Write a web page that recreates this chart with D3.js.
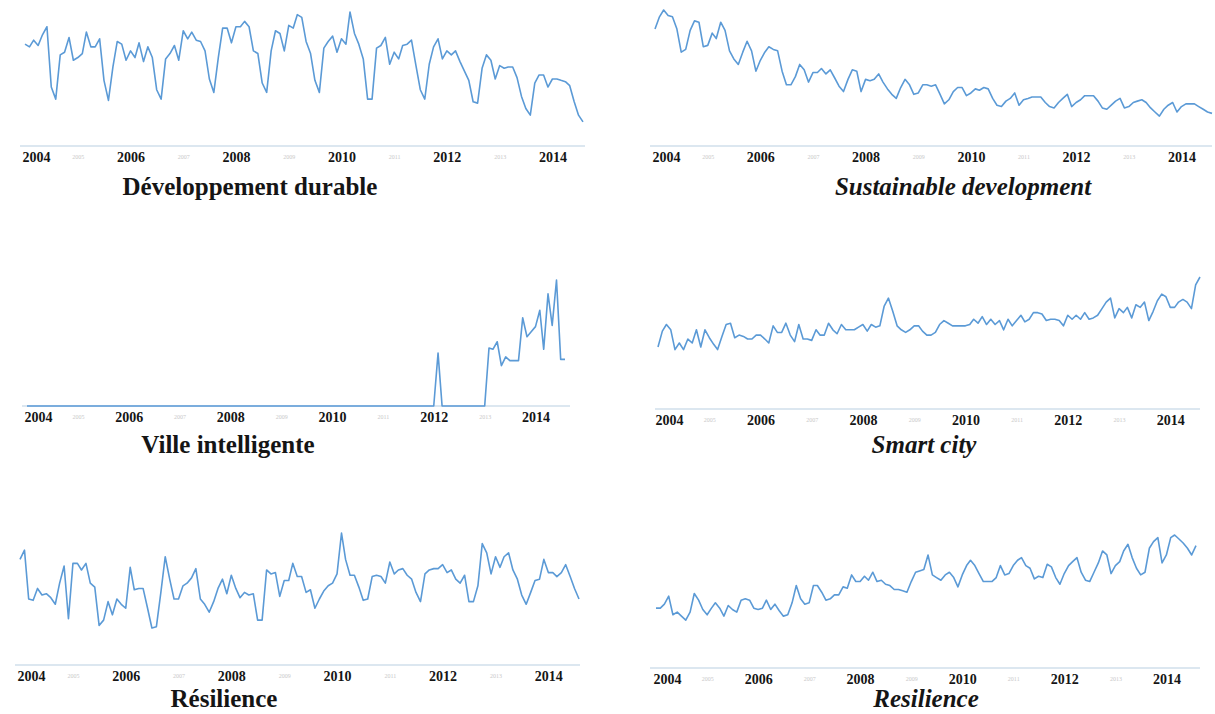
<!DOCTYPE html>
<html>
<head>
<meta charset="utf-8">
<script src="https://cdn.jsdelivr.net/npm/d3@7"></script>
<style>
  body { margin: 0; background: #fff; }
  svg { display: block; }
</style>
</head>
<body>
<script>
// monthly Google Trends style index (0-100), Jan 2004 -> Aug 2014
var years = [2004, 2005, 2006, 2007, 2008, 2009, 2010, 2011, 2012, 2013, 2014];

var devDurable = [
  76,74,79,75,83,89,44,35,68,70,81,64,
  66,69,85,74,74,80,49,34,59,78,76,64,
  71,66,77,63,74,66,42,35,65,69,75,64,
  86,80,85,79,78,71,50,40,66,88,88,77,
  89,89,93,89,71,69,47,40,71,86,84,71,
  90,88,98,96,78,69,49,40,73,78,82,70,
  80,76,100,84,76,65,35,35,73,75,81,61,
  70,65,75,76,79,60,42,35,61,74,80,65,
  71,68,71,63,56,49,33,32,58,68,64,50,
  60,58,59,59,51,37,28,23,47,53,53,44,
  50,50,49,48,45,33,23,18
];

var sustainableDev = [
  86,95,100,96,95,86,69,71,85,92,91,73,
  74,83,79,91,85,70,64,60,69,77,70,55,
  63,69,73,71,70,55,45,45,51,60,56,47,
  54,54,57,53,56,50,44,40,49,56,55,40,
  49,48,49,53,47,42,38,35,43,49,45,38,
  39,45,45,44,45,38,31,34,40,43,43,37,
  39,42,41,43,42,35,30,29,33,35,39,30,
  34,35,36,36,36,32,29,28,32,35,38,29,
  32,34,37,37,37,33,28,27,30,33,35,28,
  29,32,33,34,32,28,25,22,27,30,32,25,
  29,31,31,31,29,27,25,24
];

var villeIntelligente = [
  0,0,0,0,0,0,0,0,0,0,0,0,
  0,0,0,0,0,0,0,0,0,0,0,0,
  0,0,0,0,0,0,0,0,0,0,0,0,
  0,0,0,0,0,0,0,0,0,0,0,0,
  0,0,0,0,0,0,0,0,0,0,0,0,
  0,0,0,0,0,0,0,0,0,0,0,0,
  0,0,0,0,0,0,0,0,0,0,0,0,
  0,0,0,0,0,0,0,0,0,0,0,0,
  0,42,0,0,0,0,0,0,0,0,0,0,
  0,46,45,51,32,39,36,36,36,70,55,59,
  63,76,45,89,64,100,37,37
];

var smartCity = [
  47,59,64,60,45,50,45,53,50,60,47,60,
  54,49,45,55,64,65,54,56,55,53,53,56,
  56,53,50,63,58,58,65,56,51,64,53,53,
  52,60,56,56,65,60,57,64,60,60,60,62,
  64,59,64,62,63,78,84,74,63,60,58,60,
  63,63,59,56,56,58,64,67,65,63,63,63,
  63,64,68,65,70,64,68,64,67,60,68,63,
  67,71,66,68,73,73,72,67,68,68,67,63,
  71,68,71,68,73,68,69,71,76,81,84,69,
  76,73,77,69,79,77,81,67,74,82,87,85,
  77,77,81,83,81,76,94,100
];

var resilienceFr = [
  80,87,50,49,58,53,54,51,46,62,75,35,
  77,77,72,77,62,59,30,34,48,38,50,46,
  43,74,57,58,58,43,28,29,55,82,65,50,
  50,60,62,66,73,50,46,40,48,58,65,54,
  68,58,51,55,53,54,34,34,72,69,70,52,
  64,64,77,67,67,55,57,43,50,56,60,62,
  69,100,80,68,68,59,49,50,67,68,67,62,
  78,69,72,73,68,65,55,48,69,72,73,73,
  76,70,72,65,62,68,48,48,60,92,85,69,
  82,74,82,85,72,65,53,46,55,64,65,80,
  70,70,67,70,76,67,58,50
];

var resilienceEn = [
  45,45,48,54,40,42,39,36,42,56,51,44,
  40,45,49,45,39,47,44,42,51,52,51,45,
  44,45,51,44,48,43,39,40,49,62,52,48,
  49,62,62,57,51,52,55,55,61,60,70,65,
  65,69,66,72,65,66,63,62,59,59,58,57,
  65,72,73,74,85,70,68,66,70,72,68,61,
  70,77,81,77,71,65,65,65,68,77,70,71,
  77,81,83,77,75,67,69,68,78,76,68,63,
  71,77,80,83,72,66,65,72,79,88,85,71,
  77,80,88,93,83,75,70,72,90,95,98,79,
  85,98,100,97,94,90,85,92
];

var titles = ["Développement durable", "Sustainable development",
              "Ville intelligente", "Smart city",
              "Résilience", "Resilience"];

var months = d3.timeMonth.range(new Date(2004, 0, 1), new Date(2014, 8, 1));

var width = 1215,
    height = 714;

// layout of the six small multiples
var panels = [
  {data: devDurable,        x0: 25,  x1: 583,  zero: 146, top: 12,  ax0: 20,  ax1: 585,  tx: 250, ty: 195, italic: false},
  {data: sustainableDev,    x0: 655, x1: 1212, zero: 146, top: 10,  ax0: 650, ax1: 1212, tx: 963, ty: 195, italic: true},
  {data: villeIntelligente, x0: 27,  x1: 565,  zero: 406, top: 280, ax0: 22,  ax1: 570,  tx: 228, ty: 453, italic: false},
  {data: smartCity,         x0: 658, x1: 1200, zero: 409, top: 277, ax0: 655, ax1: 1200, tx: 924, ty: 453, italic: true},
  {data: resilienceFr,      x0: 20,  x1: 579,  zero: 665, top: 533, ax0: 15,  ax1: 580,  tx: 224, ty: 707, italic: false},
  {data: resilienceEn,      x0: 656, x1: 1196, zero: 668, top: 535, ax0: 650, ax1: 1200, tx: 926, ty: 707, italic: true}
];

var svg = d3.select("body").append("svg")
    .attr("width", width)
    .attr("height", height);

panels.forEach(function(p, k) {
  var x = d3.scaleTime()
      .domain([months[0], months[months.length - 1]])
      .range([p.x0, p.x1]);
  var y = d3.scaleLinear()
      .domain([0, 100])
      .range([p.zero, p.top]);

  var g = svg.append("g");

  // axis baseline
  g.append("line")
      .attr("x1", p.ax0).attr("x2", p.ax1)
      .attr("y1", p.zero).attr("y2", p.zero)
      .attr("stroke", "#b9cfe2")
      .attr("stroke-width", 1.2);

  var axis = d3.axisBottom(x)
      .tickValues(years.map(function(yr) { return new Date(yr, 0, 1); }))
      .tickSize(0)
      .tickPadding(6)
      .tickFormat(d3.timeFormat("%Y"));

  var ax = g.append("g")
      .attr("transform", "translate(0," + p.zero + ")")
      .call(axis);
  ax.select(".domain").remove();

  ax.selectAll(".tick text")
      .attr("font-family", "'Liberation Serif', 'DejaVu Serif', serif")
      .each(function(d, i) {
        var t = d3.select(this);
        if (d.getFullYear() % 2 === 0) {
          t.attr("font-size", 14).attr("font-weight", "bold").attr("fill", "#151515");
        } else {
          t.attr("font-size", 6).attr("fill", "#c9c9c9").attr("y", 9);
        }
        if (i === 0) t.attr("text-anchor", "start").attr("x", -3);
      });

  var line = d3.line()
      .x(function(d, i) { return x(months[i]); })
      .y(function(d) { return y(d); });

  g.append("path")
      .datum(p.data)
      .attr("d", line)
      .attr("fill", "none")
      .attr("stroke", "#5b9ad6")
      .attr("stroke-width", 1.6)
      .attr("stroke-linejoin", "round");

  g.append("text")
      .attr("x", p.tx)
      .attr("y", p.ty)
      .attr("text-anchor", "middle")
      .attr("font-family", "'Liberation Serif', 'DejaVu Serif', serif")
      .attr("font-size", 25)
      .attr("font-weight", "bold")
      .attr("font-style", p.italic ? "italic" : "normal")
      .attr("fill", "#151515")
      .text(titles[k]);
});
</script>
</body>
</html>
